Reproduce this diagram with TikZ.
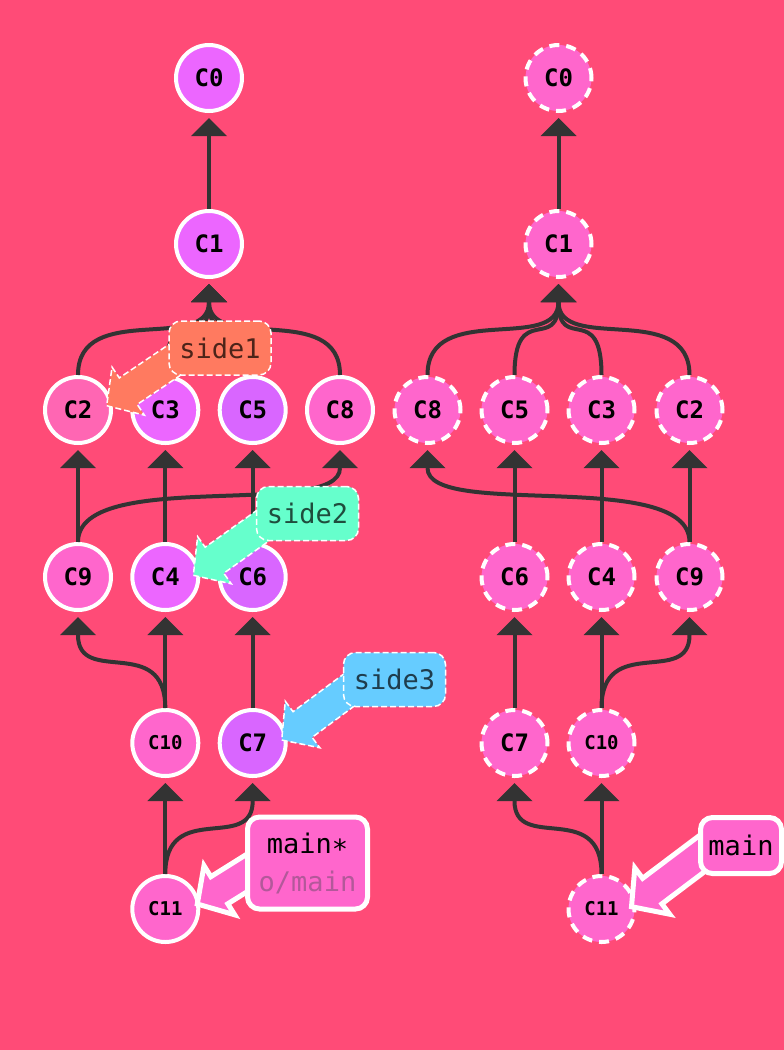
\documentclass[tikz,border=0pt]{standalone}
\usepackage{fontspec}
\setmonofont{DejaVu Sans Mono}
\usetikzlibrary{arrows.meta,calc}
\definecolor{bg}{HTML}{FF4B77}
\definecolor{edgec}{HTML}{333333}
\definecolor{cpink}{HTML}{FF66CC}
\definecolor{crose}{HTML}{FF66B3}
\definecolor{cmag}{HTML}{EC66FF}
\definecolor{cpurp}{HTML}{D966FF}
\definecolor{lsalmon}{HTML}{FF7A60}
\definecolor{laqua}{HTML}{66FFCC}
\definecolor{lsky}{HTML}{66CCFF}
\definecolor{tsalmon}{HTML}{4D2419}
\definecolor{taqua}{HTML}{1F4D3D}
\definecolor{tsky}{HTML}{1F3D4D}
\definecolor{tgray}{HTML}{B3589A}
\newcommand\brarrow[4]{%
  \begin{scope}[shift={#2},rotate=#3]
    \path[#1] (0,0) -- (26,29) -- (26,16) -- (#4,16) -- (#4,-16) -- (26,-16) -- (26,-29) -- cycle;
  \end{scope}}
\begin{document}
\begin{tikzpicture}[x=1pt,y=-1pt,
  commit/.style={circle,minimum size=66pt,inner sep=0pt,draw=white,line width=4pt,
    font=\ttfamily\bfseries\fontsize{24}{24}\selectfont,text=black},
  smalltxt/.style={font=\ttfamily\bfseries\fontsize{19}{19}\selectfont},
  ghost/.style={commit,fill=cpink,dash pattern=on 10pt off 7pt},
  edge/.style={draw=edgec,line width=4pt,-{Triangle[width=36pt,length=18pt,line width=0pt]},shorten >=5pt},
  lbl/.style={rectangle,rounded corners=12pt,minimum width=102pt,minimum height=54pt,inner sep=0pt,
    font=\ttfamily\fontsize{27}{27}\selectfont,draw=white,line width=1.5pt,dash pattern=on 6pt off 3pt},
  lblarrow/.style={draw=white,line width=1.5pt,dash pattern=on 6pt off 3pt},
  mainlbl/.style={rectangle,rounded corners=12pt,inner sep=0pt,fill=cpink,draw=white,line width=5pt,
    font=\ttfamily\fontsize{27}{38}\selectfont,align=center},
  mainarrow/.style={fill=cpink,draw=white,line width=5pt}
]
\useasboundingbox (0,0) rectangle (784,1050);
\clip (0,0) rectangle (784,1050);
\fill[bg] (0,0) rectangle (784,1050);

% ---------- left graph ----------
\node[commit,fill=cmag] (C0) at (209,78) {C0};
\node[commit,fill=cmag] (C1) at (209,244) {C1};
\node[commit,fill=crose] (C2) at (78,410) {C2};
\node[commit,fill=cmag] (C3) at (165.3,410) {C3};
\node[commit,fill=cpurp] (C5) at (252.7,410) {C5};
\node[commit,fill=cpink] (C8) at (340,410) {C8};
\node[commit,fill=cpink] (C9) at (78,577) {C9};
\node[commit,fill=cmag] (C4) at (165.3,577) {C4};
\node[commit,fill=cpurp] (C6) at (252.7,577) {C6};
\node[commit,fill=cpink,smalltxt] (C10) at (165.3,743) {C10};
\node[commit,fill=cpurp] (C7) at (252.7,743) {C7};
\node[commit,fill=cpink,smalltxt] (C11) at (165.3,909) {C11};

\draw[edge] (C1) -- (C0);
\foreach \c in {C2,C3,C5,C8}
  \draw[edge] (\c.north) .. controls +(0,-75) and +(0,75) .. (C1.south);
\draw[edge] (C9) -- (C2);
\draw[edge] (C9.north) .. controls +(0,-75) and +(0,75) .. (C8.south);
\draw[edge] (C4) -- (C3);
\draw[edge] (C6) -- (C5);
\draw[edge] (C10.north) .. controls +(0,-75) and +(0,75) .. (C9.south);
\draw[edge] (C10) -- (C4);
\draw[edge] (C7) -- (C6);
\draw[edge] (C11) -- (C10);
\draw[edge] (C11.north) .. controls +(0,-75) and +(0,75) .. (C7.south);

% ---------- right graph ----------
\node[ghost] (R0) at (558.5,78) {C0};
\node[ghost] (R1) at (558.5,244) {C1};
\node[ghost] (R8) at (427.5,410) {C8};
\node[ghost] (R5) at (514.5,410) {C5};
\node[ghost] (R3) at (601.5,410) {C3};
\node[ghost] (R2) at (689.5,410) {C2};
\node[ghost] (R6) at (514.5,577) {C6};
\node[ghost] (R4) at (601.5,577) {C4};
\node[ghost] (R9) at (689.5,577) {C9};
\node[ghost] (R7) at (514.5,743) {C7};
\node[ghost,smalltxt] (R10) at (601.5,743) {C10};
\node[ghost,smalltxt] (R11) at (601.5,909) {C11};

\draw[edge] (R1) -- (R0);
\foreach \c in {R8,R5,R3,R2}
  \draw[edge] (\c.north) .. controls +(0,-75) and +(0,75) .. (R1.south);
\draw[edge] (R6) -- (R5);
\draw[edge] (R4) -- (R3);
\draw[edge] (R9) -- (R2);
\draw[edge] (R9.north) .. controls +(0,-75) and +(0,75) .. (R8.south);
\draw[edge] (R7) -- (R6);
\draw[edge] (R10) -- (R4);
\draw[edge] (R10.north) .. controls +(0,-75) and +(0,75) .. (R9.south);
\draw[edge] (R11) -- (R10);
\draw[edge] (R11.north) .. controls +(0,-75) and +(0,75) .. (R7.south);

% ---------- branch labels ----------
\brarrow{lblarrow,fill=lsalmon}{($(C2.center)+(28.7,-4.3)$)}{34}{120}
\node[lbl,fill=lsalmon,text=tsalmon] (side1) at (220,348) {side1};

\brarrow{lblarrow,fill=laqua}{($(C4.center)+(28,-1.7)$)}{35.5}{120}
\node[lbl,fill=laqua,text=taqua] (side2) at (307.5,513.5) {side2};

\brarrow{lblarrow,fill=lsky}{($(C7.center)+(29,-3)$)}{36.6}{120}
\node[lbl,fill=lsky,text=tsky] (side3) at (394.5,679.5) {side3};

\brarrow{mainarrow}{($(C11.center)+(32,-5)$)}{32}{100}
\node[mainlbl,minimum width=120pt,minimum height=92pt] (mainL) at (307.5,863)
  {main∗\\\textcolor{tgray}{o/main}};

\brarrow{mainarrow}{($(R11.center)+(30,-2.3)$)}{37}{120}
\node[mainlbl,minimum width=81pt,minimum height=56pt] (mainR) at (741,845.5) {main};
\end{tikzpicture}
\end{document}
